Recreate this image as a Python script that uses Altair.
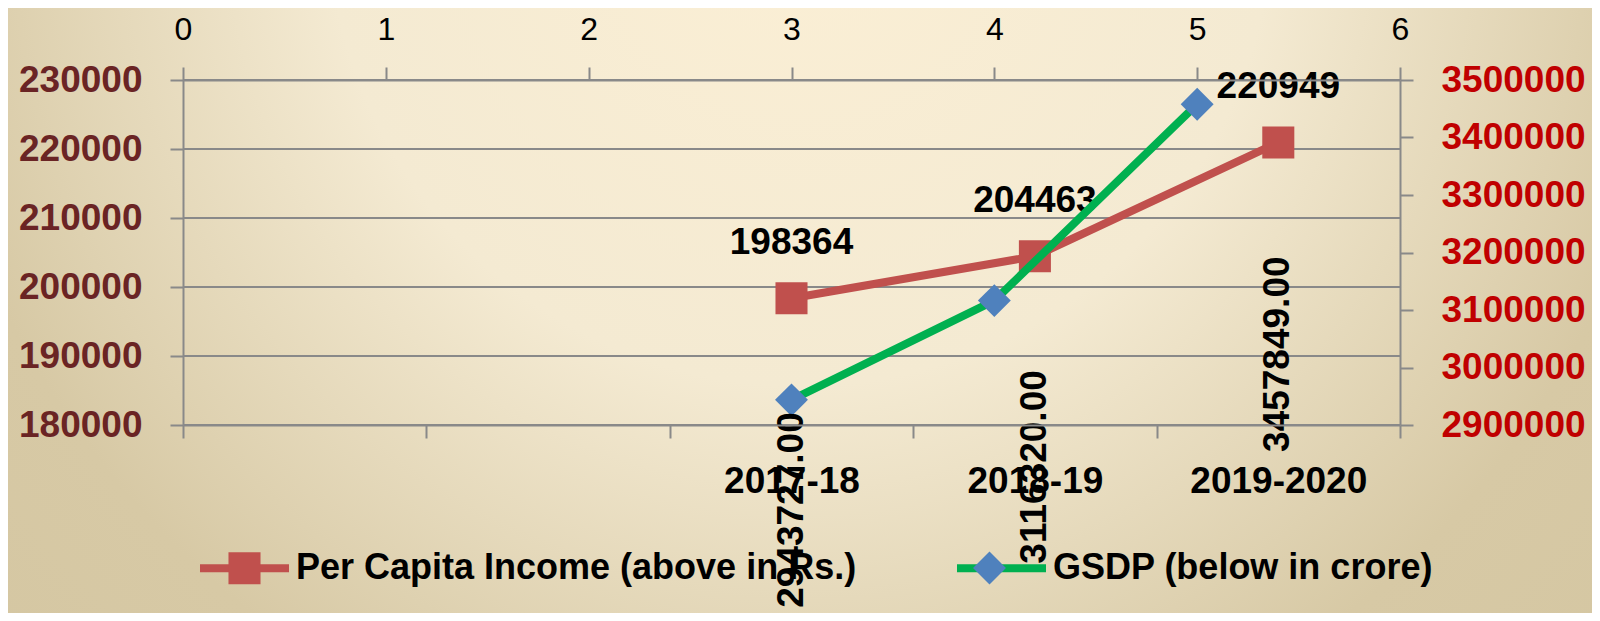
import altair as alt
import pandas as pd

# ---------------- data ----------------
years = ["2017-18", "2018-19", "2019-2020"]
category_axis = ["", " ", "2017-18", "2018-19", "2019-2020"]
per_capita = [198364, 204463, 220949]
gsdp_pos = [3, 4, 5]
gsdp = [2943727, 3116320, 3457849]
series_names = ["Per Capita Income (above in Rs.)", "GSDP (below in crore)"]
left_ticks = [180000, 190000, 200000, 210000, 220000, 230000]
right_ticks = [2900000, 3000000, 3100000, 3200000, 3300000, 3400000, 3500000]
top_ticks = [0, 1, 2, 3, 4, 5, 6]

# ---------------- style ----------------
W, H = 1217, 345
PAD = {"left": 175, "top": 72, "right": 192, "bottom": 188}
FONT = "Liberation Sans"
GRAY = "#898989"
RED = "#C0504D"
GREEN = "#00B050"
BLUE = "#4F81BD"
SQUARE = "M-0.36,-0.36H0.36V0.36H-0.36Z"
DIAMOND = "M0,-0.37L0.37,0L0,0.37L-0.37,0Z"
SYM = 7921

pci_df = pd.DataFrame({"year": years, "pci": per_capita,
                       "series": series_names[0], "marker": series_names[0]})
gsdp_df = pd.DataFrame({"year": years, "pos": gsdp_pos, "gsdp": gsdp,
                        "series": series_names[1], "marker": series_names[1]})
label_df = pd.DataFrame({"year": years, "pci": per_capita, "gsdp": gsdp})
grid_df = pd.DataFrame({"pci": left_ticks})
bg_df = pd.DataFrame({"k": [0]})

common_legend = dict(
    orient="none", legendX=13, legendY=439.5, direction="horizontal", title=None,
    labelFont=FONT, labelFontSize=36, labelFontWeight="bold", labelLimit=2000,
    labelOffset=3, columnPadding=84, padding=0, symbolSize=SYM,
)
line_legend = alt.Legend(symbolType="M-1,0H1", symbolStrokeWidth=8,
                         labelColor="black", **common_legend)
marker_legend = alt.Legend(symbolStrokeWidth=8, symbolStrokeColor="transparent",
                           symbolOpacity=1, labelColor="transparent", **common_legend)

color_enc = alt.Color("series:N", scale=alt.Scale(domain=series_names, range=[RED, GREEN]),
                      legend=line_legend)
fill_enc = alt.Fill("marker:N", sort="descending", scale=alt.Scale(range=[RED, BLUE]),
                    legend=marker_legend)
shape_enc = alt.Shape("marker:N", sort="descending", scale=alt.Scale(range=[SQUARE, DIAMOND]),
                      legend=marker_legend)

label_common = dict(labelFont=FONT, labelFontSize=37, labelFontWeight="bold",
                    tickSize=13, tickWidth=2, tickColor=GRAY, domainColor=GRAY,
                    domainWidth=2, title=None, grid=False, labelLimit=400, zindex=1,
                    labelFlush=False)

x_cat = alt.X("year:N", bandPosition=0.5,
              scale=alt.Scale(type="band", domain=category_axis, paddingInner=0, paddingOuter=0),
              axis=alt.Axis(orient="bottom", tickBand="extent", labelAngle=0, labelPadding=25,
                            labelColor="black", **label_common))
y_left = alt.Y("pci:Q", scale=alt.Scale(domain=[180000, 230000], nice=False, zero=False),
               axis=alt.Axis(orient="left", values=left_ticks, format="d", labelPadding=28,
                             labelColor="#6A2424", **label_common))

x_top = alt.X("pos:Q", scale=alt.Scale(domain=[0, 6], nice=False, zero=False),
              axis=alt.Axis(orient="top", values=top_ticks, format="d", labelFont=FONT,
                            labelFontSize=32, labelFontWeight="normal", labelColor="black",
                            labelPadding=21, tickSize=13, tickWidth=2, tickColor=GRAY,
                            domainColor=GRAY, domainWidth=2, title=None, grid=False, zindex=1,
                            labelFlush=False))
y_right = alt.Y("gsdp:Q", scale=alt.Scale(domain=[2900000, 3500000], nice=False, zero=False),
                axis=alt.Axis(orient="right", values=right_ticks, format="d", labelPadding=28,
                              labelColor="#C00000", **label_common))

# background (gradient panel)
bg = alt.Chart(bg_df).mark_rect(
    fill={"gradient": "radial", "x1": 0.5, "y1": 0.25, "x2": 0.5, "y2": 0.25,
          "r1": 0, "r2": 0.85,
          "stops": [{"offset": 0, "color": "#FBEFD5"},
                    {"offset": 0.35, "color": "#F4EAD2"},
                    {"offset": 0.66, "color": "#D7C9A5"},
                    {"offset": 1, "color": "#D2C49F"}]},
    strokeWidth=0,
).encode(x=alt.value(-PAD["left"]), x2=alt.value(W + PAD["right"]),
         y=alt.value(-PAD["top"]), y2=alt.value(H + PAD["bottom"]))

# per capita layer (bottom category axis / left value axis)
grid = alt.Chart(grid_df).mark_rule(color=GRAY, strokeWidth=2).encode(y=y_left)
pci_line = alt.Chart(pci_df).mark_line(strokeWidth=8, strokeCap="round", strokeJoin="round").encode(
    x=x_cat, y=y_left, color=color_enc)
pci_pts = alt.Chart(pci_df).mark_point(filled=True, size=SYM, opacity=1, strokeWidth=0).encode(
    x=x_cat, y=y_left, fill=fill_enc, shape=shape_enc)
pci_txt = alt.Chart(pci_df).mark_text(dy=-44, baseline="alphabetic", align="center", font=FONT,
                                      fontSize=37, fontWeight="bold", color="black").encode(
    x=x_cat, y=y_left, text=alt.Text("pci:Q", format="d"))
# GSDP value labels, placed (as in the original) under the category positions
gsdp_txt = alt.Chart(label_df).mark_text(angle=270, align="right", baseline="middle", dx=-114,
                                         font=FONT, fontSize=37, fontWeight="bold",
                                         color="black").encode(
    x=x_cat, y=y_left, text=alt.Text("gsdp:Q", format=".2f"))
layer_a = alt.layer(grid, pci_line, pci_pts, pci_txt)

# GSDP layer (top numeric axis / right value axis)
gsdp_line = alt.Chart(gsdp_df).mark_line(strokeWidth=8, strokeCap="round", strokeJoin="round").encode(
    x=x_top, y=y_right, color=color_enc)
gsdp_pts = alt.Chart(gsdp_df).mark_point(filled=True, size=SYM, opacity=1, strokeWidth=0).encode(
    x=x_top, y=y_right, fill=fill_enc, shape=shape_enc)
layer_b = alt.layer(gsdp_line, gsdp_pts)

layer_c = alt.layer(gsdp_txt)

chart = alt.layer(bg, layer_a, layer_b, gsdp_txt.encode(
    x=alt.X("year:N", bandPosition=0.5,
            scale=alt.Scale(type="band", domain=category_axis, paddingInner=0, paddingOuter=0),
            axis=None),
    y=alt.Y("pci:Q", scale=alt.Scale(domain=[180000, 230000], nice=False, zero=False), axis=None),
)).resolve_scale(
    x="independent", y="independent"
).properties(
    width=W, height=H, padding=PAD, autosize=alt.AutoSizeParams(type="none"),
    background="#E8DEC4",
).configure_view(stroke=None)

chart.save("out.html", embed_options={"renderer": "svg", "actions": False})
